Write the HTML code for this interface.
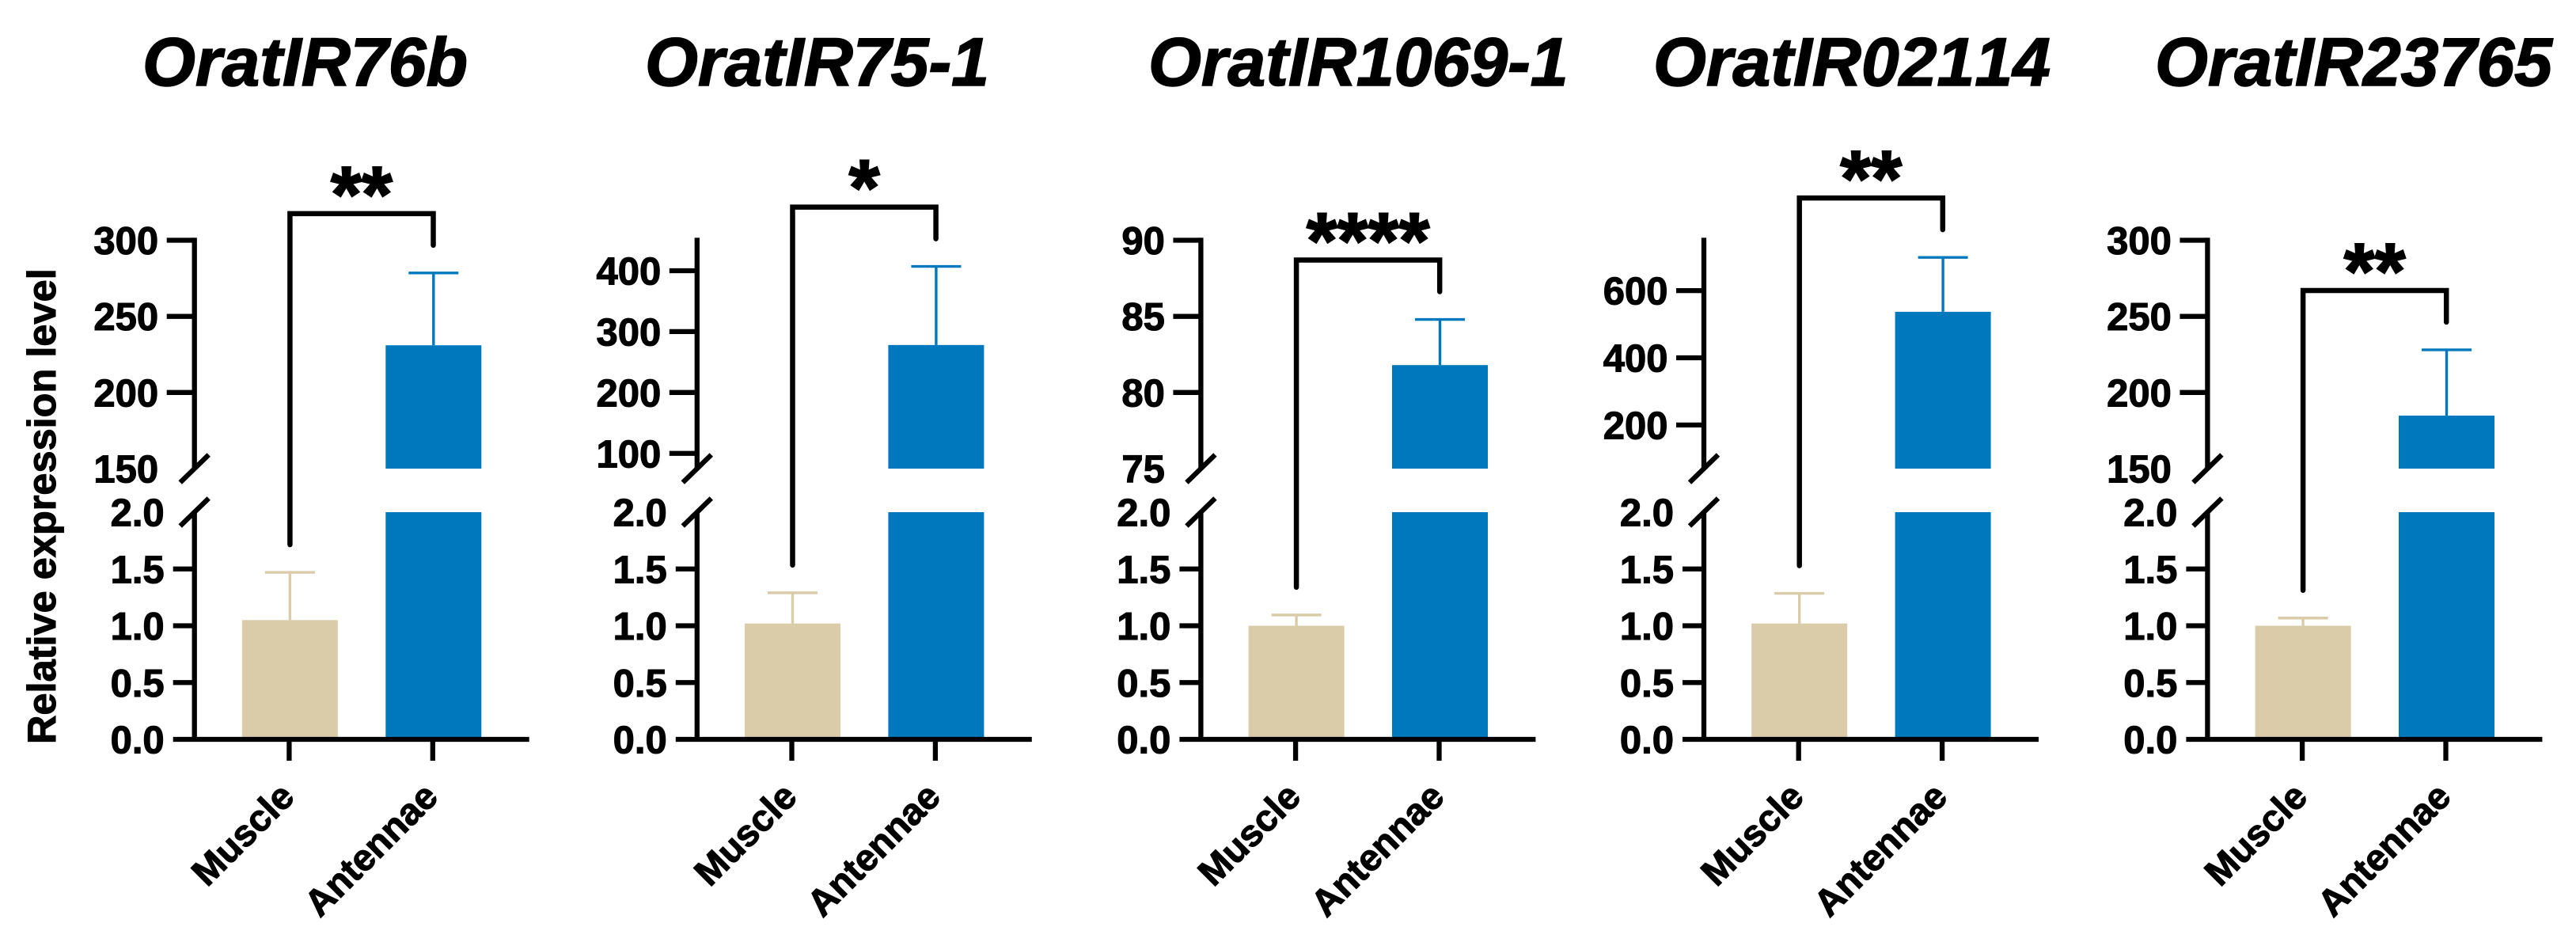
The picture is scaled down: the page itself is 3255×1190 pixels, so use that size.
<!DOCTYPE html>
<html lang="en">
<head>
<meta charset="utf-8">
<title>Relative expression of OratIR genes in muscle and antennae</title>
<style>
html,body{margin:0;padding:0;background:#fff;}
svg{display:block;}
text{font-family:"Liberation Sans",Arial,sans-serif;font-weight:700;fill:#000;stroke:#000;stroke-width:1.1px;font-kerning:none;}
</style>
</head>
<body>
<svg id="chart" xmlns="http://www.w3.org/2000/svg" width="3255" height="1190" viewBox="0 0 3255 1190">
  <rect x="0" y="0" width="3255" height="1190" fill="#ffffff"/>
  <text transform="translate(70,940) rotate(-90)" font-size="50.5" style="font-kerning:normal">Relative expression level</text>
</svg>
<script>
// ---- data ----
const geneNames = ['OratIR76b', 'OratIR75-1', 'OratIR1069-1', 'OratIR02114', 'OratIR23765'];
const categories = ['Muscle', 'Antennae'];
const muscleMeans = [1.05, 1.02, 1.0, 1.02, 1.0];
const muscleErrors = [0.42, 0.27, 0.095, 0.265, 0.068];
const antennaeMeans = [231, 278, 81.8, 537, 184.8];
const antennaeErrors = [47.5, 129, 3.0, 162, 43.2];
const significance = ['**', '*', '****', '**', '**'];
const lowerTicks = [0, 0.5, 1, 1.5, 2];
const lowerTickLabels = ['0.0', '0.5', '1.0', '1.5', '2.0'];
const upperTicks = [
  [150, 200, 250, 300],
  [100, 200, 300, 400],
  [75, 80, 85, 90],
  [200, 400, 600],
  [150, 200, 250, 300]
];
const upperDomainMin = [150, 75, 75, 70, 150];
const upperDomainMax = [300, 450, 90, 750, 300];

// ---- layout ----
const panelLeft = [245.7, 880.8, 1517.4, 2153, 2789.4];
const titleLeft = [180, 815, 1451, 2089, 2723];
const PLOT = {
  zeroY: 934, lowerTopY: 647, upperBottomY: 592, upperTopY: 303.5,
  catOffset: [120.2, 301.6], barWidth: 121, capWidth: 63,
  axisLeftOverhang: 27, axisRightExtent: 423, upperTickLen: 35,
  stroke: 6.3
};
const colors = ['#dacba9', '#0078be'];

// ---- axis functions ----
function yLower(v) {
  return PLOT.zeroY - (v / lowerTicks[lowerTicks.length - 1]) * (PLOT.zeroY - PLOT.lowerTopY);
}
function yUpper(p, v) {
  const t = (v - upperDomainMin[p]) / (upperDomainMax[p] - upperDomainMin[p]);
  return PLOT.upperBottomY - t * (PLOT.upperBottomY - PLOT.upperTopY);
}
function xCat(p, c) {
  return panelLeft[p] + PLOT.catOffset[c];
}

const NS = 'http://www.w3.org/2000/svg';
const svg = document.getElementById('chart');
function mk(tag, parent, attrs, txt) {
  const el = document.createElementNS(NS, tag);
  for (const k in attrs) el.setAttribute(k, attrs[k]);
  if (txt !== undefined) el.textContent = txt;
  parent.appendChild(el);
  return el;
}
function line(parent, x1, y1, x2, y2, color, w, cap) {
  return mk('line', parent, {x1: x1, y1: y1, x2: x2, y2: y2, stroke: color, 'stroke-width': w, 'stroke-linecap': cap || 'butt'});
}

geneNames.forEach(function (gene, p) {
  const ax = panelLeft[p];
  const group = mk('g', svg, {});
  
  

  // title
  const title = mk('text', group, {x: titleLeft[p], y: 108, 'font-size': 86, 'font-style': 'italic', style: 'stroke-width:1.6px'}, gene);
  
  

  // bars
  const muscleX = xCat(p, 0) + 0.5 - PLOT.barWidth / 2;
  const muscleBar = mk('rect', group, {x: muscleX, y: yLower(muscleMeans[p]), width: PLOT.barWidth, height: PLOT.zeroY - yLower(muscleMeans[p]), fill: colors[0]});
  
  

  const antX = xCat(p, 1) + 0.5 - PLOT.barWidth / 2;
  const antLower = mk('rect', group, {x: antX, y: PLOT.lowerTopY, width: PLOT.barWidth, height: PLOT.zeroY - PLOT.lowerTopY, fill: colors[1]});
  
  

  const antTopY = yUpper(p, antennaeMeans[p]);
  const antUpper = mk('rect', group, {x: antX, y: antTopY, width: PLOT.barWidth, height: PLOT.upperBottomY - antTopY, fill: colors[1]});
  
  

  // error bars
  const mCapY = yLower(muscleMeans[p] + muscleErrors[p]);
  const mErr = mk('g', group, {});
  
  
  line(mErr, xCat(p, 0) + 0.5, yLower(muscleMeans[p]), xCat(p, 0) + 0.5, mCapY, colors[0], 3.4);
  line(mErr, xCat(p, 0) + 0.5 - PLOT.capWidth / 2, mCapY, xCat(p, 0) + 0.5 + PLOT.capWidth / 2, mCapY, colors[0], 3.4);

  const aCapY = yUpper(p, antennaeMeans[p] + antennaeErrors[p]);
  const aErr = mk('g', group, {});
  
  
  line(aErr, xCat(p, 1) + 0.5, antTopY, xCat(p, 1) + 0.5, aCapY, colors[1], 3.4);
  line(aErr, xCat(p, 1) + 0.5 - PLOT.capWidth / 2, aCapY, xCat(p, 1) + 0.5 + PLOT.capWidth / 2, aCapY, colors[1], 3.4);

  // y axis
  const yAxis = mk('g', group, {});
  
  
  line(yAxis, ax, PLOT.upperTopY - PLOT.stroke / 2, ax, PLOT.upperBottomY, '#000', PLOT.stroke);
  line(yAxis, ax, PLOT.lowerTopY, ax, PLOT.zeroY, '#000', PLOT.stroke);
  line(yAxis, ax - 18, PLOT.upperBottomY + 17.5, ax + 18, PLOT.upperBottomY - 17.5, '#000', PLOT.stroke);
  line(yAxis, ax - 18, PLOT.lowerTopY + 17.5, ax + 18, PLOT.lowerTopY - 17.5, '#000', PLOT.stroke);

  // upper ticks
  upperTicks[p].forEach(function (v) {
    const y = yUpper(p, v);
    if (v > upperDomainMin[p]) {
      line(yAxis, ax - PLOT.upperTickLen, y, ax, y, '#000', PLOT.stroke);
    }
    const label = mk('text', yAxis, {x: ax - 45.5, y: y + 17.5, 'font-size': 49, 'text-anchor': 'end'}, String(v));
    
    
  });

  // lower ticks
  lowerTicks.forEach(function (v, i) {
    const y = yLower(v);
    if (v < lowerTicks[lowerTicks.length - 1] && v > 0) {
      line(yAxis, ax - PLOT.axisLeftOverhang, y, ax, y, '#000', PLOT.stroke);
    }
    const label = mk('text', yAxis, {x: ax - 38, y: y + 17.5, 'font-size': 49, 'text-anchor': 'end'}, lowerTickLabels[i]);
    
    
  });

  // x axis
  const xAxis = mk('g', group, {});
  
  
  line(xAxis, ax - PLOT.axisLeftOverhang, PLOT.zeroY, ax + PLOT.axisRightExtent, PLOT.zeroY, '#000', PLOT.stroke);
  categories.forEach(function (cat, c) {
    const x = xCat(p, c) - 0.5;
    line(xAxis, x, PLOT.zeroY, x, 961, '#000', PLOT.stroke);
    const lx = x + 9;
    const ly = 1009;
    const label = mk('text', xAxis, {x: lx, y: ly, 'font-size': 47, 'text-anchor': 'end', transform: 'rotate(-45 ' + lx + ' ' + ly + ')'}, cat);
    
    
  });

  // significance bracket, placed from the error-bar tops
  const leftEnd = mCapY - 35;
  const rightEnd = aCapY - 35;
  const topY = Math.min(leftEnd, rightEnd) - 40;
  const bx0 = xCat(p, 0) + 0.5;
  const bx1 = xCat(p, 1) + 0.2;
  const bracket = mk('path', group, {
    d: 'M' + bx0 + ' ' + leftEnd + 'V' + topY + 'H' + bx1 + 'V' + rightEnd,
    fill: 'none', stroke: '#000', 'stroke-width': 6.5, 'stroke-linecap': 'round', 'stroke-linejoin': 'miter'
  });
  
  

  const stars = mk('text', group, {x: (bx0 + bx1) / 2, y: topY + 10, 'font-size': 100, 'text-anchor': 'middle', style: 'stroke-width:2px'}, significance[p]);
  
  
});
</script>
</body>
</html>
